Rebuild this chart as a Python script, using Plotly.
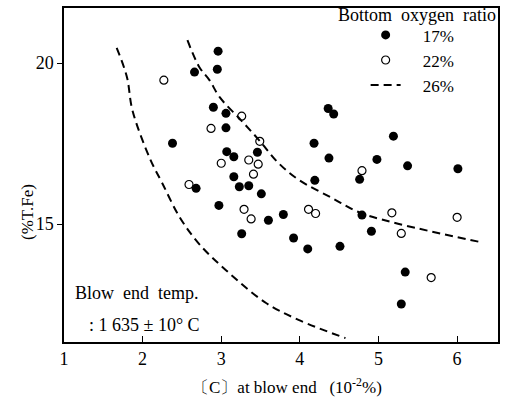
import plotly.graph_objects as go

# ---- data ----
x17 = [2.96, 2.95, 2.66, 2.90, 3.06, 3.06, 2.38, 3.07, 3.16, 3.46, 3.16, 3.23, 3.35, 3.51,
       2.97, 3.26, 3.60, 3.79, 3.92, 4.10, 4.51, 4.18, 4.36, 4.43, 4.37, 4.19, 4.98, 5.19,
       4.76, 4.79, 4.91, 5.37, 6.01, 5.34, 5.29, 2.68]
y17 = [20.37, 19.81, 19.72, 18.63, 18.44, 17.99, 17.51, 17.25, 17.09, 17.23, 16.47, 16.16, 16.19, 15.94,
       15.58, 14.70, 15.12, 15.30, 14.57, 14.23, 14.31, 17.51, 18.59, 18.42, 17.05, 16.36, 17.01, 17.73,
       16.39, 15.28, 14.78, 16.81, 16.72, 13.51, 12.52, 16.11]

x22 = [2.27, 2.87, 3.26, 3.49, 3.00, 3.35, 3.47, 3.41, 3.29, 3.38, 4.11, 4.20, 4.79, 5.17,
       5.29, 5.67, 6.00, 2.59]
y22 = [19.47, 17.97, 18.35, 17.57, 16.89, 16.99, 16.86, 16.55, 15.46, 15.16, 15.46, 15.33, 16.66, 15.35,
       14.71, 13.34, 15.21, 16.23]

# dashed boundary curves
curve_left_x = [1.67, 1.80, 1.87, 2.09, 2.25, 2.47, 2.72, 3.06, 3.57, 3.99, 4.58]
curve_left_y = [20.47, 19.57, 18.54, 17.05, 16.27, 15.22, 14.38, 13.57, 12.55, 12.02, 11.46]
curve_right_x = [2.57, 2.72, 2.85, 2.98, 3.25, 3.48, 3.73, 3.99, 4.41, 4.75, 5.17, 6.30]
curve_right_y = [20.71, 19.88, 19.47, 18.94, 18.23, 17.61, 16.89, 16.37, 15.81, 15.37, 15.06, 14.44]

x_ticks = [1, 2, 3, 4, 5, 6]
y_ticks = [15, 20]

FONT = "Times New Roman, Liberation Serif, DejaVu Serif, serif"
NB = "\u00a0"

fig = go.Figure()

fig.add_trace(go.Scatter(
    x=x17, y=y17, mode="markers", name=NB * 4 + "17%",
    marker=dict(symbol="circle", size=9, color="black", line=dict(width=0)),
))
fig.add_trace(go.Scatter(
    x=x22, y=y22, mode="markers", name=NB * 4 + "22%",
    marker=dict(symbol="circle-open", size=8, color="black", line=dict(width=1.2)),
))
fig.add_trace(go.Scatter(
    x=curve_right_x, y=curve_right_y, mode="lines", name=NB * 4 + "26%",
    line=dict(color="black", width=2, dash="8px,5px", shape="spline"),
))
fig.add_trace(go.Scatter(
    x=curve_left_x, y=curve_left_y, mode="lines", showlegend=False,
    line=dict(color="black", width=2, dash="8px,5px", shape="spline"),
))

fig.update_layout(
    width=505, height=406,
    margin=dict(l=64, r=5, t=8, b=64),
    paper_bgcolor="white", plot_bgcolor="white",
    font=dict(family=FONT, size=18, color="black"),
    showlegend=True,
    legend=dict(
        x=0.695, y=0.972, xanchor="left", yanchor="top",
        bgcolor="rgba(255,255,255,0)", borderwidth=0,
        font=dict(family=FONT, size=17), tracegroupgap=0,
        traceorder="normal", itemwidth=30,
    ),
    xaxis=dict(
        range=[1, 6.52], tickvals=x_ticks, ticktext=[str(v) for v in x_ticks],
        ticks="inside", ticklen=6, tickcolor="black", tickwidth=1,
        showline=True, linecolor="black", linewidth=1.5, mirror=True,
        showgrid=False, zeroline=False,
        tickfont=dict(family=FONT, size=18),
    ),
    yaxis=dict(
        range=[11.34, 21.71], tickvals=y_ticks, ticktext=[str(v) for v in y_ticks],
        ticks="outside", ticklen=5, tickcolor="black", tickwidth=1,
        showline=True, linecolor="black", linewidth=1.5, mirror=True,
        showgrid=False, zeroline=False,
        tickfont=dict(family=FONT, size=18),
    ),
)

ann = [
    dict(text="Bottom" + NB * 2 + "oxygen" + NB * 2 + "ratio", x=1.0, y=0.98,
         xanchor="right", yanchor="middle", xref="paper", yref="paper", showarrow=False,
         font=dict(family=FONT, size=18)),
    dict(text="(%T.Fe)", x=-0.112, y=0.389, textangle=-90, xref="paper", yref="paper",
         showarrow=False, font=dict(family=FONT, size=17)),
    dict(text="〔C〕at" + NB + "blow" + NB + "end" + NB * 3 + "(10<sup>-2</sup>%)",
         x=0.514, y=-0.132, xref="paper", yref="paper", showarrow=False,
         xanchor="center", yanchor="middle", font=dict(family=FONT, size=17)),
    dict(text="Blow" + NB * 2 + "end" + NB * 2 + "temp.", x=0.02, y=0.147,
         xanchor="left", yanchor="middle", xref="paper", yref="paper", showarrow=False,
         font=dict(family=FONT, size=18)),
    dict(text=":" + NB + "1" + NB + "635" + NB + "±" + NB + "10°" + NB + "C", x=0.053, y=0.051,
         xanchor="left", yanchor="middle", xref="paper", yref="paper", showarrow=False,
         font=dict(family=FONT, size=18)),
]
fig.update_layout(annotations=ann)

fig.write_html("out.html")
